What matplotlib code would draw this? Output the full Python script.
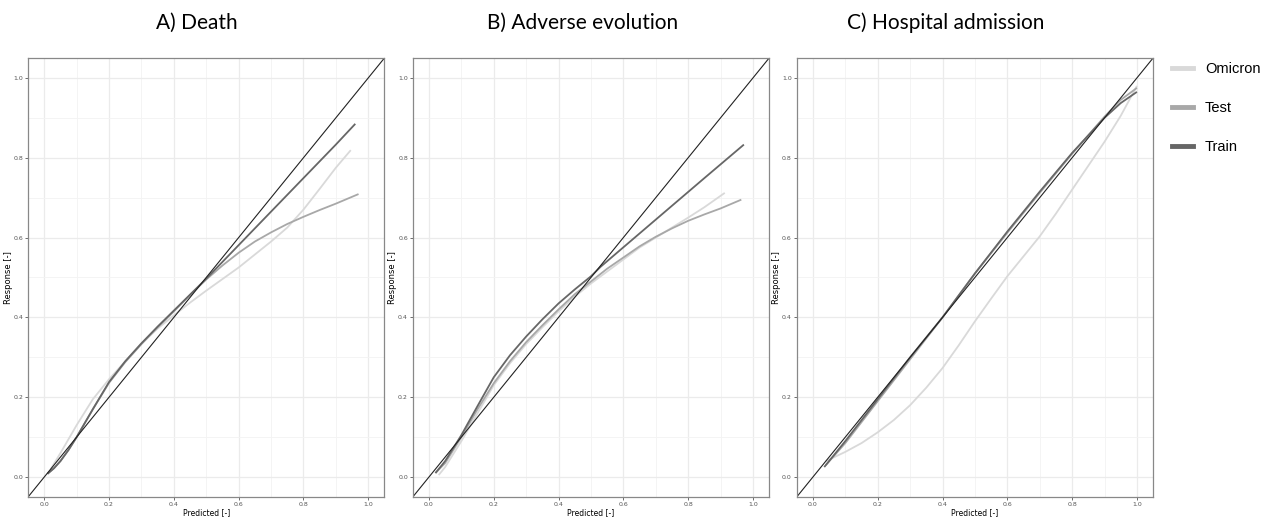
import numpy as np
import matplotlib
matplotlib.use("Agg")
import matplotlib.pyplot as plt

# panel titles and series names
titles = ["A) Death", "B) Adverse evolution", "C) Hospital admission"]
series = ["Omicron", "Test", "Train"]
colors = {"Omicron": "#d9d9d9", "Test": "#a8a8a8", "Train": "#666666"}

# A) Death
death_omicron_x = [0.02, 0.05, 0.1, 0.15, 0.2, 0.25, 0.3, 0.35, 0.4, 0.45, 0.5, 0.6, 0.7, 0.75, 0.8, 0.85, 0.9, 0.946]
death_omicron_y = [0.02, 0.06, 0.13, 0.195, 0.245, 0.29, 0.335, 0.372, 0.405, 0.437, 0.467, 0.525, 0.59, 0.625,
                   0.67, 0.722, 0.775, 0.819]
death_test_x = [0.01, 0.03, 0.05, 0.075, 0.1, 0.15, 0.2, 0.25, 0.3, 0.35, 0.4, 0.45, 0.5, 0.55, 0.6, 0.65, 0.7,
                0.75, 0.8, 0.85, 0.9, 0.97]
death_test_y = [0.008, 0.022, 0.04, 0.068, 0.1, 0.17, 0.236, 0.288, 0.333, 0.375, 0.415, 0.456, 0.495, 0.53,
                0.562, 0.59, 0.613, 0.634, 0.652, 0.669, 0.685, 0.709]
death_train_x = [0.01, 0.03, 0.05, 0.075, 0.1, 0.15, 0.2, 0.25, 0.3, 0.35, 0.4, 0.45, 0.5, 0.6, 0.7, 0.8, 0.9, 0.96]
death_train_y = [0.008, 0.022, 0.04, 0.068, 0.1, 0.17, 0.238, 0.29, 0.335, 0.377, 0.417, 0.457, 0.497, 0.581,
                 0.665, 0.749, 0.833, 0.885]

# B) Adverse evolution
adv_omicron_x = [0.03, 0.05, 0.1, 0.15, 0.2, 0.25, 0.3, 0.35, 0.4, 0.45, 0.5, 0.55, 0.6, 0.65, 0.7, 0.75, 0.8,
                 0.85, 0.913]
adv_omicron_y = [0.005, 0.025, 0.09, 0.16, 0.23, 0.285, 0.333, 0.375, 0.415, 0.452, 0.485, 0.515, 0.545, 0.575,
                 0.6, 0.625, 0.65, 0.676, 0.712]
adv_test_x = [0.02, 0.05, 0.1, 0.15, 0.2, 0.25, 0.3, 0.35, 0.4, 0.45, 0.5, 0.55, 0.6, 0.65, 0.7, 0.75, 0.8, 0.85,
              0.9, 0.964]
adv_test_y = [0.01, 0.035, 0.1, 0.17, 0.235, 0.29, 0.338, 0.38, 0.42, 0.458, 0.49, 0.522, 0.55, 0.578, 0.602,
              0.623, 0.642, 0.658, 0.673, 0.695]
adv_train_x = [0.02, 0.05, 0.1, 0.15, 0.2, 0.25, 0.3, 0.35, 0.4, 0.45, 0.5, 0.53, 0.7, 0.85, 0.972]
adv_train_y = [0.01, 0.04, 0.105, 0.178, 0.25, 0.305, 0.352, 0.395, 0.435, 0.47, 0.503, 0.527, 0.645, 0.749, 0.833]

# C) Hospital admission
hosp_omicron_x = [0.04, 0.1, 0.15, 0.2, 0.25, 0.3, 0.35, 0.4, 0.45, 0.5, 0.55, 0.6, 0.65, 0.7, 0.75, 0.8, 0.85,
                  0.9, 0.95, 1.0]
hosp_omicron_y = [0.04, 0.063, 0.085, 0.112, 0.143, 0.18, 0.224, 0.273, 0.33, 0.39, 0.447, 0.503, 0.553, 0.603,
                  0.66, 0.72, 0.78, 0.84, 0.905, 0.98]
hosp_test_x = [0.04, 0.1, 0.2, 0.3, 0.4, 0.5, 0.6, 0.7, 0.8, 0.9, 0.95, 1.0]
hosp_test_y = [0.03, 0.085, 0.19, 0.295, 0.4, 0.51, 0.612, 0.712, 0.81, 0.903, 0.945, 0.975]
hosp_train_x = [0.035, 0.1, 0.2, 0.3, 0.4, 0.5, 0.6, 0.7, 0.8, 0.9, 0.95, 1.0]
hosp_train_y = [0.025, 0.09, 0.195, 0.3, 0.4, 0.51, 0.615, 0.715, 0.812, 0.9, 0.937, 0.965]

panels = [
    {"Omicron": (death_omicron_x, death_omicron_y), "Test": (death_test_x, death_test_y),
     "Train": (death_train_x, death_train_y)},
    {"Omicron": (adv_omicron_x, adv_omicron_y), "Test": (adv_test_x, adv_test_y),
     "Train": (adv_train_x, adv_train_y)},
    {"Omicron": (hosp_omicron_x, hosp_omicron_y), "Test": (hosp_test_x, hosp_test_y),
     "Train": (hosp_train_x, hosp_train_y)},
]

fig = plt.figure(figsize=(12.63, 5.19), dpi=100)
lefts = [0.0222, 0.3268, 0.6308]
title_x = [0.156, 0.461, 0.749]
ticks = np.arange(0, 1.01, 0.2)

for i, data in enumerate(panels):
    ax = fig.add_axes([lefts[i], 0.0424, 0.2822, 0.8459])
    ax.set_xlim(-0.05, 1.05)
    ax.set_ylim(-0.05, 1.05)
    ax.set_xticks(ticks)
    ax.set_yticks(ticks)
    ax.set_xticks(np.arange(0.1, 1.0, 0.2), minor=True)
    ax.set_yticks(np.arange(0.1, 1.0, 0.2), minor=True)
    ax.grid(True, which="major", color="#ebebeb", linewidth=0.9)
    ax.grid(True, which="minor", color="#f3f3f3", linewidth=0.6)
    ax.set_axisbelow(True)
    ax.tick_params(which="major", labelsize=4.5, length=2, width=0.5,
                   colors="#333333", labelcolor="#555555", pad=1.5)
    ax.tick_params(which="minor", length=0)
    ax.set_xticklabels([f"{v:.1f}" for v in ticks])
    ax.set_yticklabels([f"{v:.1f}" for v in ticks])
    for s in ax.spines.values():
        s.set_color("#888888")
        s.set_linewidth(0.9)
    for name in series:
        x, y = data[name]
        ax.plot(x, y, color=colors[name], linewidth=1.3, label=name,
                solid_capstyle="butt", solid_joinstyle="round")
    ax.axline((0, 0), slope=1, color="#222222", linewidth=0.8)
    ax.set_xlabel("Predicted [-]", fontsize=5.5, labelpad=1)
    ax.set_ylabel("Response [-]", fontsize=6, labelpad=0.5)
    fig.text(title_x[i], 0.956, titles[i], fontsize=15, family="Lato",
             ha="center", va="center")

handles = [plt.Line2D([], [], color=colors[n], linewidth=3.5) for n in series]
fig.legend(handles, series, loc="upper left", bbox_to_anchor=(0.928, 0.8805),
           frameon=False, borderpad=0, borderaxespad=0, handlelength=1.45,
           handletextpad=0.8, labelspacing=1.72,
           prop={"family": "Liberation Sans", "size": 10.5})

fig.savefig("out.png", dpi=100)
